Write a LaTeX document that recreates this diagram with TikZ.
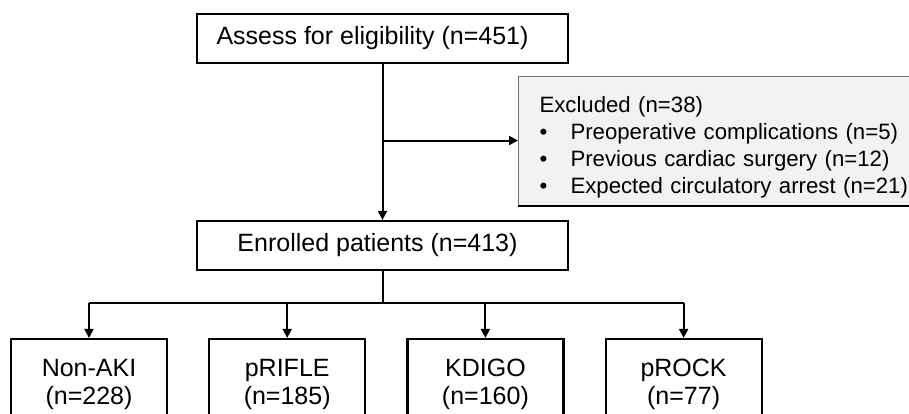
\documentclass[tikz,border=0pt]{standalone}
\usepackage{fontspec}
\setmainfont{Liberation Sans}
\usetikzlibrary{positioning,arrows.meta}

\begin{document}
\begin{tikzpicture}[
  x=1pt, y=-1pt,
  font=\fontsize{25}{28}\selectfont,
  node distance=40pt,
  box/.style={draw, line width=2.2pt, rectangle, minimum width=371pt, minimum height=49pt, inner sep=0pt},
  grp/.style={draw, line width=2.2pt, rectangle, minimum width=156pt, minimum height=80pt, align=center, inner sep=0pt},
  exbox/.style={draw=black!55, line width=1pt, fill=black!5, rectangle, minimum width=430pt, minimum height=129pt,
    text width=389pt, inner xsep=21pt, align=left, anchor=north west,
    font=\fontsize{22.2}{27}\selectfont},
  arr/.style={-{Triangle[length=9pt, width=9pt]}, line width=2pt},
  ln/.style={line width=2pt}
]
  \clip (0,0) rectangle (909,413);
  \useasboundingbox (0,0) rectangle (909,413);

  % top part
  \node[box] (assess) at (382.5,38.5) {Assess for eligibility (n=451)\hspace*{20pt}};
  \node[box] (enrol) at (382.5,245.5) {Enrolled patients (n=413)\hspace*{10pt}};
  \node[exbox] (excl) at (518,76) {\rule{0pt}{28.5pt}Excluded (n=38)\\
    \makebox[31pt][l]{\textbullet}Preoperative complications (n=5)\\
    \makebox[31pt][l]{\textbullet}Previous cardiac surgery (n=12)\\
    \makebox[31pt][l]{\textbullet}Expected circulatory arrest (n=21)};
  \draw[line width=2.2pt] (excl.south west) -- (excl.south east);

  \draw[arr] (assess) -- (enrol);
  \coordinate (split) at (382.5,140.5);
  \draw[arr] (split) -- (split -| excl.west);

  % groups
  \node[grp] (nonaki) at (89,379) {\rule{0pt}{29pt}Non-AKI\\(n=228)};
  \node[grp, right=of nonaki] (prifle) {\rule{0pt}{29pt}pRIFLE\\(n=185)};
  \node[grp, right=of prifle] (kdigo) {\rule{0pt}{29pt}KDIGO\\(n=160)};
  \node[grp, right=of kdigo] (prock) {\rule{0pt}{29pt}pROCK\\(n=77)};

  \coordinate (bus) at (382.5,303);
  \draw[ln] (enrol) -- (bus);
  \draw[ln] (nonaki.north |- bus) -- (prock.north |- bus);
  \foreach \g in {nonaki,prifle,kdigo,prock}
    \draw[arr] (\g.north |- bus) -- (\g.north);
\end{tikzpicture}
\end{document}
